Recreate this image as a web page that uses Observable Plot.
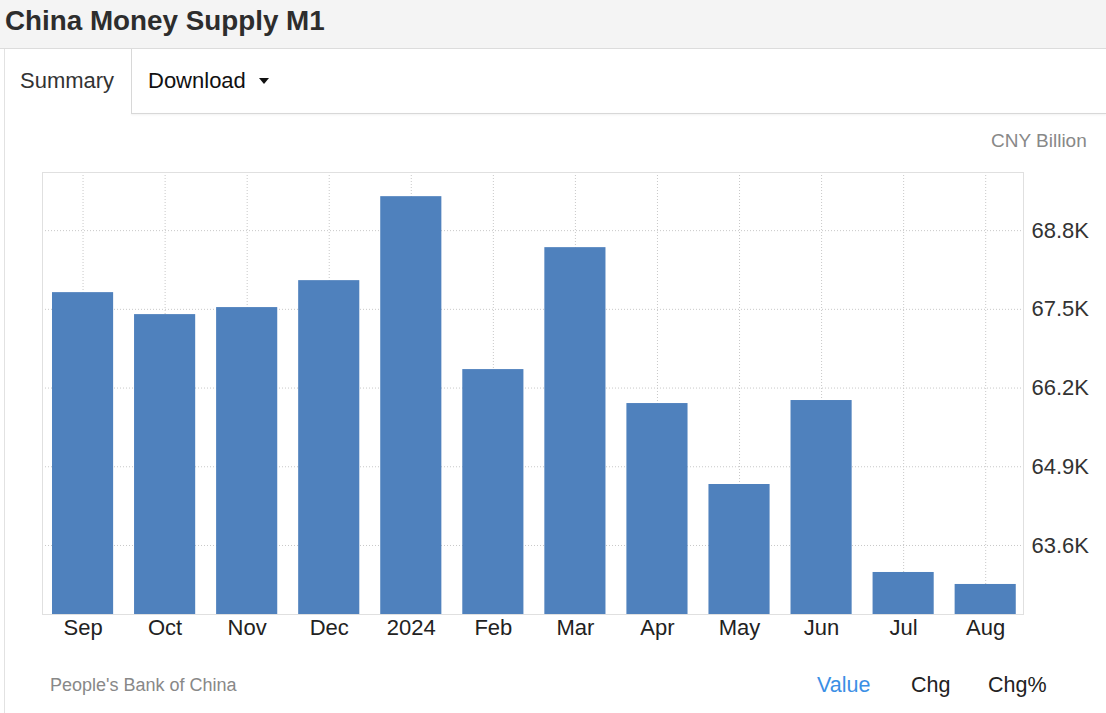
<!DOCTYPE html>
<html>
<head>
<meta charset="utf-8">
<script src="https://cdn.jsdelivr.net/npm/d3@7"></script>
<script src="https://cdn.jsdelivr.net/npm/@observablehq/plot@0.6"></script>
<style>
  html, body { margin: 0; padding: 0; background: #fff; }
  body { width: 1106px; height: 713px; position: relative; overflow: hidden; font-family: Arial, "Liberation Sans", sans-serif; }
  .abs { position: absolute; white-space: nowrap; }
  #titlebar { left: 0; top: 0; width: 1106px; height: 48px; background: #f4f4f4; border-bottom: 1px solid #dcdcdc; }
  #title { left: 5px; top: 3px; font-size: 27.8px; font-weight: bold; color: #2d2d2d; line-height: 36px; }
  #leftborder { left: 4px; top: 49px; width: 1px; height: 664px; background: #e2e2e2; }
  #tabright { left: 131px; top: 49px; width: 1px; height: 65px; background: #d8d8d8; }
  #tabbottom { left: 131px; top: 113px; width: 975px; height: 1px; background: #d8d8d8; box-shadow: 0 1px 2px rgba(0,0,0,0.08); }
  #summary { left: 20px; top: 68px; font-size: 22px; color: #333; line-height: 26px; }
  #download { left: 148px; top: 68px; font-size: 22px; color: #111; line-height: 26px; }
  #caret { left: 259px; top: 78px; width: 0; height: 0; border-left: 5.5px solid transparent; border-right: 5.5px solid transparent; border-top: 6px solid #111; }
  #unit { left: 991px; top: 130px; font-size: 19px; color: #888; line-height: 22px; }
  #source { left: 50px; top: 674px; font-size: 18px; color: #888; line-height: 22px; }
  .btn { top: 672px; font-size: 21.5px; line-height: 26px; color: #222; }
  #chart { left: 0; top: 150px; }
</style>
</head>
<body>
<div id="titlebar" class="abs"></div>
<div id="title" class="abs">China Money Supply M1</div>
<div id="leftborder" class="abs"></div>
<div id="tabright" class="abs"></div>
<div id="tabbottom" class="abs"></div>
<div id="summary" class="abs">Summary</div>
<div id="download" class="abs">Download</div>
<div id="caret" class="abs"></div>
<div id="unit" class="abs">CNY Billion</div>
<div id="chart" class="abs"></div>
<div id="source" class="abs">People's Bank of China</div>
<div class="abs btn" style="left:817px;color:#3b8fe5;">Value</div>
<div class="abs btn" style="left:911px;">Chg</div>
<div class="abs btn" style="left:988px;">Chg%</div>
<script>
const months = ["Sep","Oct","Nov","Dec","2024","Feb","Mar","Apr","May","Jun","Jul","Aug"];
const values = [67776, 67413, 67529, 67974, 69361, 66505, 68519, 65944, 64607, 65994, 63154, 62956];
const yTicks = [63600, 64900, 66200, 67500, 68800];
const yDomain = [62460, 69760];

const data = months.map((m, i) => ({month: m, value: values[i]}));

const chart = Plot.plot({
  width: 1106,
  height: 500,
  marginLeft: 42,
  marginRight: 83,
  marginTop: 22,
  marginBottom: 36,
  style: {fontFamily: "Arial, 'Liberation Sans', sans-serif", fontSize: "22px", color: "#333", background: "transparent"},
  x: {domain: months, paddingInner: 0.255, paddingOuter: 0.105, align: 0.58, round: false, label: null},
  y: {domain: yDomain, label: null},
  marks: [
    Plot.gridY(yTicks, {stroke: "#c8c8c8", strokeOpacity: 1, strokeDasharray: "1,2"}),
    Plot.gridX(months, {stroke: "#c8c8c8", strokeOpacity: 1, strokeDasharray: "1,2"}),
    Plot.ruleY([yDomain[1]], {stroke: "#c8c8c8", strokeDasharray: "1,2"}),
    Plot.frame({stroke: "#e0e0e0"}),
    Plot.barY(data, {x: "month", y: "value", fill: "#4f81bd", clip: true}),
    Plot.axisX({tickSize: 0, tickPadding: 5, fill: "#222", label: null}),
    Plot.axisY(yTicks, {anchor: "right", tickSize: 0, tickPadding: 8, fill: "#333", label: null,
      tickFormat: d => (d / 1000).toFixed(1) + "K"})
  ]
});
document.getElementById("chart").appendChild(chart);
</script>
</body>
</html>
